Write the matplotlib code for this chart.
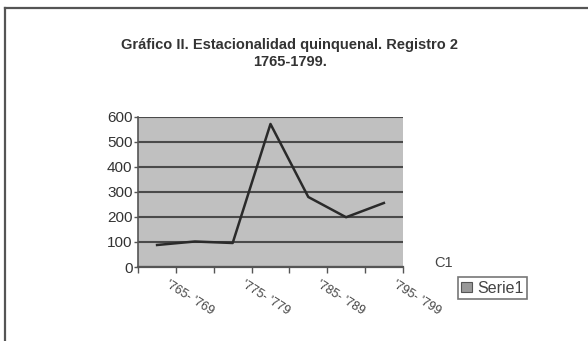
import matplotlib.pyplot as plt
from matplotlib.lines import Line2D
from matplotlib.patches import Patch

# quinquenios y valores de la serie
periodos = ['1765-1769', '1770-1774', '1775-1779', '1780-1784',
            '1785-1789', '1790-1794', '1795-1799']
etiquetas = ["'765- '769", "", "'775- '779", "", "'785- '789", "", "'795- '799"]
serie1 = [88, 102, 96, 572, 280, 199, 256]

plt.rcParams['font.family'] = ['Liberation Sans', 'DejaVu Sans']

fig = plt.figure(figsize=(5.88, 3.41), dpi=100)
fig.patch.set_facecolor('white')

# marco exterior (solo arriba e izquierda)
fig.add_artist(Line2D([0.009, 0.009], [0.0, 0.977], color='#555555', lw=1.6))
fig.add_artist(Line2D([0.009, 1.0], [0.977, 0.977], color='#555555', lw=1.6))

ax = fig.add_axes([0.235, 0.217, 0.450, 0.440])
ax.set_facecolor('#c0c0c0')

x = list(range(len(periodos)))
ax.plot(x, serie1, color='#2a2a2a', lw=1.8, zorder=3)

ax.set_xlim(-0.5, len(periodos) - 0.5)
ax.set_ylim(0, 600)
ax.set_yticks(range(0, 601, 100))
ax.yaxis.grid(True, color='#4a4a4a', lw=1.5)
ax.set_axisbelow(True)

# marcas del eje x en los limites de cada categoria
ax.set_xticks([i - 0.5 for i in range(len(periodos) + 1)])
ax.set_xticklabels([])
ax.tick_params(axis='x', length=4, width=1, color='#555555', direction='out')
ax.tick_params(axis='y', length=3, width=1, color='#555555', direction='out',
               labelsize=11, labelcolor='#333333', pad=1)

for i, lab in enumerate(etiquetas):
    if lab:
        ax.annotate(lab, xy=(i, 0), xycoords='data', xytext=(7, -12),
                    textcoords='offset points', rotation=-32,
                    rotation_mode='anchor', ha='left', va='center',
                    fontsize=9, color='#444444')

for side in ['top', 'right']:
    ax.spines[side].set_visible(False)
ax.spines['left'].set_color('#555555')
ax.spines['left'].set_linewidth(1.2)
ax.spines['bottom'].set_color('#555555')
ax.spines['bottom'].set_linewidth(1.6)

fig.text(0.493, 0.867, 'Gráfico II. Estacionalidad quinquenal. Registro 2',
         ha='center', va='center', fontsize=10.5, fontweight='bold', color='#333333')
fig.text(0.493, 0.818, '1765-1799.', ha='center', va='center',
         fontsize=10.5, fontweight='bold', color='#333333')

fig.text(0.755, 0.228, 'C1', ha='center', va='center', fontsize=10.5, color='#444444')

marca = Patch(facecolor='#999999', edgecolor='#555555', linewidth=0.8, label='Serie1')
leg = fig.legend(handles=[marca], loc='center left', bbox_to_anchor=(0.779, 0.155),
                 fontsize=11.5, frameon=True, fancybox=False, handlelength=0.7,
                 handleheight=0.55, handletextpad=0.3, borderpad=0.2,
                 borderaxespad=0)
leg.get_frame().set_edgecolor('#555555')
leg.get_frame().set_linewidth(1.2)
for t in leg.get_texts():
    t.set_color('#444444')

fig.savefig('out.png', dpi=100)
